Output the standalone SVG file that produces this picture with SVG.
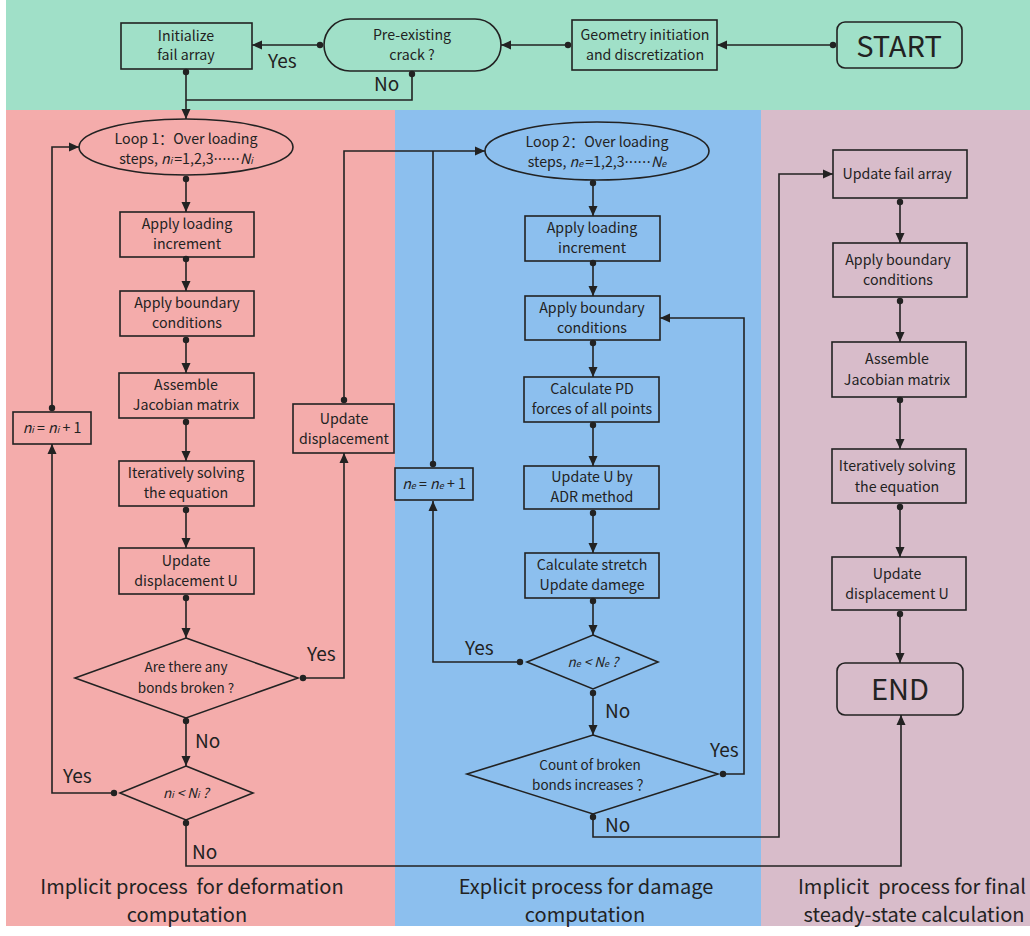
<svg xmlns="http://www.w3.org/2000/svg" width="1030" height="936" viewBox="0 0 1030 936">
<style>
.box{fill:none;stroke:#222;stroke-width:1.6}
.t{font-family:"Noto Sans CJK SC","Noto Sans",sans-serif;font-size:14.2px;fill:#222;text-anchor:middle}
.td{font-family:"Noto Sans CJK SC","Noto Sans",sans-serif;font-size:13.5px;fill:#222;text-anchor:middle}
.big{font-family:"Noto Sans CJK SC","Noto Sans",sans-serif;font-size:29px;fill:#222;text-anchor:middle}
.lbl{font-family:"Noto Sans CJK SC","Noto Sans",sans-serif;font-size:19px;fill:#222}
.sec{font-family:"Noto Sans CJK SC","Noto Sans",sans-serif;font-size:20px;fill:#222;text-anchor:middle}
.c{fill:none;stroke:#222;stroke-width:1.6}
.d{fill:#222}
.i{font-style:italic}
.s{font-style:italic;font-size:9px}
.dots{font-family:"Noto Sans",sans-serif;letter-spacing:0.6px}
</style>
<defs>
<marker id="ah" markerWidth="10" markerHeight="10" viewBox="0 0 10 10" refX="10" refY="5" orient="auto" markerUnits="userSpaceOnUse">
<path d="M0,0.5 L10,5 L0,9.5 Z" fill="#222"/>
</marker>
</defs>
<g id="background">
<rect x="6" y="0" width="1024" height="110" fill="#A0E0C8"/>
<rect x="6" y="110" width="389" height="816" fill="#F4ACAB"/>
<rect x="395" y="110" width="366" height="816" fill="#8CBFEE"/>
<rect x="761" y="110" width="269" height="816" fill="#D8BCCA"/>
</g>
<g id="connectors">
<path class="c" d="M833 45 H717" marker-end="url(#ah)"/>
<path class="c" d="M568 45 H501" marker-end="url(#ah)"/>
<path class="c" d="M320 45 H252" marker-end="url(#ah)"/>
<path class="c" d="M412 74 V100 H186"/>
<path class="c" d="M186 72 V119" marker-end="url(#ah)"/>
<path class="c" d="M186 179 V212" marker-end="url(#ah)"/>
<path class="c" d="M186 259 V291" marker-end="url(#ah)"/>
<path class="c" d="M186 340 V373" marker-end="url(#ah)"/>
<path class="c" d="M186 422 V461" marker-end="url(#ah)"/>
<path class="c" d="M186 510 V548" marker-end="url(#ah)"/>
<path class="c" d="M186 598 V638" marker-end="url(#ah)"/>
<path class="c" d="M303 678 H344 V453" marker-end="url(#ah)"/>
<path class="c" d="M344 400 V151 H485" marker-end="url(#ah)"/>
<path class="c" d="M186 721 V766" marker-end="url(#ah)"/>
<path class="c" d="M114 793 H52 V444" marker-end="url(#ah)"/>
<path class="c" d="M52 408 V147 H79" marker-end="url(#ah)"/>
<path class="c" d="M186 823 V866 H901 V715" marker-end="url(#ah)"/>
<path class="c" d="M593 183 V216" marker-end="url(#ah)"/>
<path class="c" d="M593 263 V296" marker-end="url(#ah)"/>
<path class="c" d="M593 343 V377" marker-end="url(#ah)"/>
<path class="c" d="M593 425 V466" marker-end="url(#ah)"/>
<path class="c" d="M593 513 V553" marker-end="url(#ah)"/>
<path class="c" d="M593 601 V635" marker-end="url(#ah)"/>
<path class="c" d="M520 662 H433 V501" marker-end="url(#ah)"/>
<path class="c" d="M433 464 V151"/>
<path class="c" d="M593 693 V735" marker-end="url(#ah)"/>
<path class="c" d="M723 774 H744 V318 H660" marker-end="url(#ah)"/>
<path class="c" d="M593 817 V837 H779 V174 H833" marker-end="url(#ah)"/>
<path class="c" d="M900 202 V243" marker-end="url(#ah)"/>
<path class="c" d="M900 301 V342" marker-end="url(#ah)"/>
<path class="c" d="M900 400 V449" marker-end="url(#ah)"/>
<path class="c" d="M900 507 V557" marker-end="url(#ah)"/>
<path class="c" d="M900 614 V663" marker-end="url(#ah)"/>
<g class="d">
<circle cx="833" cy="45" r="3.2"/><circle cx="568" cy="45" r="3.2"/><circle cx="320" cy="45" r="3.2"/>
<circle cx="412" cy="74" r="3.2"/><circle cx="186" cy="72" r="3.2"/>
<circle cx="186" cy="179" r="3.2"/><circle cx="186" cy="259" r="3.2"/><circle cx="186" cy="340" r="3.2"/>
<circle cx="186" cy="422" r="3.2"/><circle cx="186" cy="510" r="3.2"/><circle cx="186" cy="598" r="3.2"/>
<circle cx="303" cy="678" r="3.2"/><circle cx="344" cy="400" r="3.2"/><circle cx="186" cy="721" r="3.2"/>
<circle cx="114" cy="793" r="3.2"/><circle cx="52" cy="408" r="3.2"/><circle cx="186" cy="823" r="3.2"/>
<circle cx="593" cy="183" r="3.2"/><circle cx="593" cy="263" r="3.2"/><circle cx="593" cy="343" r="3.2"/>
<circle cx="593" cy="425" r="3.2"/><circle cx="593" cy="513" r="3.2"/><circle cx="593" cy="601" r="3.2"/>
<circle cx="520" cy="662" r="3.2"/><circle cx="433" cy="464" r="3.2"/><circle cx="593" cy="693" r="3.2"/>
<circle cx="723" cy="774" r="3.2"/><circle cx="593" cy="817" r="3.2"/>
<circle cx="900" cy="202" r="3.2"/><circle cx="900" cy="301" r="3.2"/><circle cx="900" cy="400" r="3.2"/>
<circle cx="900" cy="507" r="3.2"/><circle cx="900" cy="614" r="3.2"/>
</g>
<text class="lbl" x="268" y="68">Yes</text>
<text class="lbl" x="374" y="91">No</text>
<text class="lbl" x="307" y="661">Yes</text>
<text class="lbl" x="195" y="748">No</text>
<text class="lbl" x="63" y="783">Yes</text>
<text class="lbl" x="192" y="859">No</text>
<text class="lbl" x="465" y="655">Yes</text>
<text class="lbl" x="605" y="718">No</text>
<text class="lbl" x="710" y="757">Yes</text>
<text class="lbl" x="605" y="832">No</text>
</g>
<g id="n-start"><rect class="box" x="837" y="22" width="125" height="46" rx="8"/><text class="big" x="899" y="57">START</text></g>
<g id="n-geom"><rect class="box" x="572" y="20" width="145" height="50"/><text class="t" x="645" y="40">Geometry initiation</text><text class="t" x="645" y="60">and discretization</text></g>
<g id="n-crack"><rect class="box" x="324" y="19" width="177" height="52" rx="26"/><text class="t" x="412" y="40">Pre-existing</text><text class="t" x="412" y="60">crack ?</text></g>
<g id="n-initfail"><rect class="box" x="121" y="23" width="131" height="46"/><text class="t" x="186" y="41">Initialize</text><text class="t" x="186" y="60">fail array</text></g>
<g id="n-loop1"><ellipse class="box" cx="186" cy="147" rx="107" ry="28"/><text class="t" x="186" y="144">Loop 1：Over loading</text><text class="t" x="186" y="164">steps, <tspan class="i">n</tspan><tspan class="s">i</tspan><tspan dx="2">=1,2,3</tspan><tspan class="dots">······</tspan><tspan class="i">N</tspan><tspan class="s">i</tspan></text></g>
<g id="n-l1-load"><rect class="box" x="120" y="212" width="134" height="45"/><text class="t" x="187" y="229">Apply loading</text><text class="t" x="187" y="249">increment</text></g>
<g id="n-l1-bc"><rect class="box" x="120" y="291" width="134" height="45"/><text class="t" x="187" y="308">Apply boundary</text><text class="t" x="187" y="328">conditions</text></g>
<g id="n-l1-jac"><rect class="box" x="119" y="373" width="135" height="45"/><text class="t" x="186" y="390">Assemble</text><text class="t" x="186" y="410">Jacobian matrix</text></g>
<g id="n-l1-solve"><rect class="box" x="119" y="461" width="135" height="45"/><text class="t" x="186" y="478">Iteratively solving</text><text class="t" x="186" y="498">the equation</text></g>
<g id="n-l1-updu"><rect class="box" x="119" y="548" width="135" height="46"/><text class="t" x="186" y="566">Update</text><text class="t" x="186" y="586">displacement U</text></g>
<g id="n-l1-broken"><polygon class="box" points="186,638 298,678 186,718 75,678"/><text class="td" x="186" y="672">Are there any</text><text class="td" x="186" y="693">bonds broken ?</text></g>
<g id="n-l1-cmp"><polygon class="box" points="186,766 253,793 186,820 120,793"/><text class="td" x="186" y="798"><tspan class="i">n</tspan><tspan class="s">i</tspan><tspan class="i"> &lt; N</tspan><tspan class="s">i</tspan><tspan class="i"> ?</tspan></text></g>
<g id="n-l1-inc"><rect class="box" x="13" y="412" width="78" height="32"/><text class="t" x="52" y="433"><tspan class="i">n</tspan><tspan class="s">i</tspan> = <tspan class="i">n</tspan><tspan class="s">i</tspan> + 1</text></g>
<g id="n-l1-upddisp"><rect class="box" x="293" y="404" width="101" height="49"/><text class="t" x="344" y="424">Update</text><text class="t" x="344" y="444">displacement</text></g>
<g id="n-loop2"><ellipse class="box" cx="597" cy="151" rx="112" ry="29"/><text class="t" x="597" y="147">Loop 2：Over loading</text><text class="t" x="597" y="167">steps, <tspan class="i">n</tspan><tspan class="s">e</tspan><tspan dx="2">=1,2,3</tspan><tspan class="dots">······</tspan><tspan class="i">N</tspan><tspan class="s">e</tspan></text></g>
<g id="n-l2-load"><rect class="box" x="525" y="216" width="135" height="45"/><text class="t" x="592" y="233">Apply loading</text><text class="t" x="592" y="253">increment</text></g>
<g id="n-l2-bc"><rect class="box" x="525" y="296" width="135" height="44"/><text class="t" x="592" y="313">Apply boundary</text><text class="t" x="592" y="333">conditions</text></g>
<g id="n-l2-pd"><rect class="box" x="524" y="377" width="135" height="45"/><text class="t" x="592" y="394">Calculate PD</text><text class="t" x="592" y="414">forces of all points</text></g>
<g id="n-l2-adr"><rect class="box" x="524" y="466" width="135" height="43"/><text class="t" x="592" y="482">Update U by</text><text class="t" x="592" y="502">ADR method</text></g>
<g id="n-l2-stretch"><rect class="box" x="525" y="553" width="134" height="45"/><text class="t" x="592" y="570">Calculate stretch</text><text class="t" x="592" y="590">Update damege</text></g>
<g id="n-l2-cmp"><polygon class="box" points="593,635 658,662 593,689 527,662"/><text class="td" x="593" y="667"><tspan class="i">n</tspan><tspan class="s">e</tspan><tspan class="i"> &lt; N</tspan><tspan class="s">e</tspan><tspan class="i"> ?</tspan></text></g>
<g id="n-l2-count"><polygon class="box" points="593,735 718,774 593,814 467,774"/><text class="td" x="590" y="770">Count of broken</text><text class="td" x="591" y="790">bonds increases ？</text></g>
<g id="n-l2-inc"><rect class="box" x="395" y="468" width="78" height="32"/><text class="t" x="434" y="489"><tspan class="i">n</tspan><tspan class="s">e</tspan> = <tspan class="i">n</tspan><tspan class="s">e</tspan> + 1</text></g>
<g id="n-r-fail"><rect class="box" x="833" y="150" width="134" height="48"/><text class="t" x="897" y="179">Update fail array</text></g>
<g id="n-r-bc"><rect class="box" x="833" y="243" width="134" height="54"/><text class="t" x="898" y="265">Apply boundary</text><text class="t" x="898" y="285">conditions</text></g>
<g id="n-r-jac"><rect class="box" x="832" y="342" width="134" height="55"/><text class="t" x="897" y="364">Assemble</text><text class="t" x="897" y="385">Jacobian matrix</text></g>
<g id="n-r-solve"><rect class="box" x="832" y="449" width="134" height="54"/><text class="t" x="897" y="471">Iteratively solving</text><text class="t" x="897" y="492">the equation</text></g>
<g id="n-r-updu"><rect class="box" x="832" y="557" width="134" height="53"/><text class="t" x="897" y="579">Update</text><text class="t" x="897" y="599">displacement U</text></g>
<g id="n-end"><rect class="box" x="837" y="663" width="126" height="52" rx="8"/><text class="big" x="900" y="700">END</text></g>
<g id="sections">
<text class="sec" x="192" y="894" xml:space="preserve">Implicit process  for deformation</text>
<text class="sec" x="187" y="922">computation</text>
<text class="sec" x="586" y="894">Explicit process for damage</text>
<text class="sec" x="585" y="922">computation</text>
<text class="sec" x="912" y="894" xml:space="preserve">Implicit  process for final</text>
<text class="sec" x="914" y="922">steady-state calculation</text>
</g>
</svg>
